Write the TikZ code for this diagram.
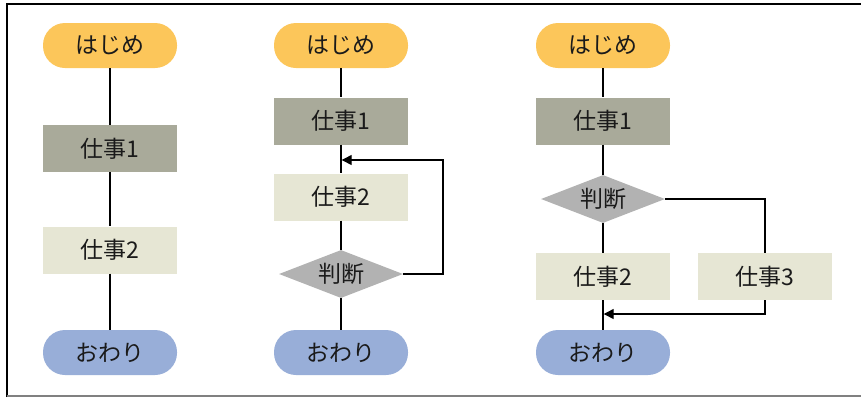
\documentclass[tikz,border=0pt]{standalone}
\usepackage{fontspec}
\setmainfont{Noto Sans CJK JP}
\usetikzlibrary{shapes.geometric,arrows.meta}
\definecolor{cstart}{HTML}{FCC65A}
\definecolor{cjob1}{HTML}{A9AA9A}
\definecolor{cjob2}{HTML}{E6E6D4}
\definecolor{cjudge}{HTML}{B2B2B2}
\definecolor{cend}{HTML}{98AED8}
\definecolor{ctext}{HTML}{1A1A1A}
\newcommand{\flatlabel}[1]{\smash{\makebox[0pt]{#1}}}
\begin{document}
\begin{tikzpicture}[x=1pt,y=-1pt,
  base/.style={inner sep=0pt,text=ctext,font=\fontsize{23}{25}\selectfont},
  pill/.style={base,rectangle,rounded corners=22pt,minimum width=134pt,minimum height=45pt},
  startbox/.style={pill,fill=cstart},
  endbox/.style={pill,fill=cend},
  jobA/.style={base,rectangle,fill=cjob1,minimum width=134pt,minimum height=47pt},
  jobB/.style={base,rectangle,fill=cjob2,minimum width=134pt,minimum height=47pt},
  judge/.style={base,diamond,fill=cjudge,minimum width=124pt,minimum height=48pt},
  conn/.style={draw=black,line width=1.3pt},
  arr/.style={conn,-{Triangle[length=10pt,width=10pt]}}
]
\useasboundingbox (0,0) rectangle (861,397);
% frame
\draw[black,line width=2pt] (6.5,397) -- (6.5,4) -- (861,4);
\draw[gray,line width=2pt] (6.5,395.5) -- (861,395.5);

% column 1
\node[startbox] (s1) at (110,45.5) {はじめ};
\node[jobA] (a1) at (110,148.5) {仕事1};
\node[jobB] (b1) at (110,250) {仕事2};
\node[endbox] (e1) at (110,352.5) {おわり};
\draw[conn] (s1) -- (a1);
\draw[conn] (a1) -- (b1);
\draw[conn] (b1) -- (e1);

% column 2
\node[startbox] (s2) at (341,45.5) {はじめ};
\node[jobA] (a2) at (341,121) {仕事1};
\node[jobB] (b2) at (341,197) {仕事2};
\node[judge] (j2) at (341,274) {\flatlabel{\raisebox{-0.36em}{判断}}};
\node[endbox] (e2) at (341,352.5) {おわり};
\draw[conn] (s2) -- (a2);
\draw[conn] (a2) -- (b2);
\draw[conn] (b2) -- (j2);
\draw[conn] (j2) -- (e2);
\coordinate (l2a) at (443,274);
\coordinate (l2b) at (443,160);
\coordinate (l2t) at (341.7,160);
\draw[arr] (j2.east) -- (l2a) -- (l2b) -- (l2t);

% column 3
\node[startbox] (s3) at (603,45.5) {はじめ};
\node[jobA] (a3) at (603,121) {仕事1};
\node[judge] (j3) at (603,199) {\flatlabel{\raisebox{-0.36em}{判断}}};
\node[jobB] (b3) at (603,276.5) {仕事2};
\node[jobB] (c3) at (765,276.5) {仕事3};
\node[endbox] (e3) at (603,352.5) {おわり};
\draw[conn] (s3) -- (a3);
\draw[conn] (a3) -- (j3);
\draw[conn] (j3) -- (b3);
\draw[conn] (b3) -- (e3);
\coordinate (l3a) at (c3.center |- j3.east);
\draw[conn] (j3.east) -- (l3a) -- (c3.north);
\coordinate (l3b) at (765,314);
\coordinate (l3t) at (603.7,314);
\draw[arr] (c3.south) -- (l3b) -- (l3t);
\end{tikzpicture}
\end{document}
